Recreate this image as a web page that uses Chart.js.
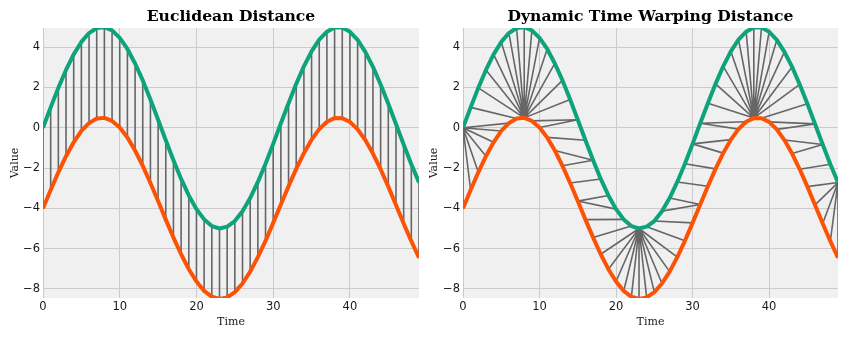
<!DOCTYPE html>
<html>
<head>
<meta charset="utf-8">
<script src="https://cdn.jsdelivr.net/npm/chart.js@4"></script>
<style>
  body { margin: 0; background: #ffffff; }
  .panel { position: absolute; top: 0; width: 425px; height: 340px; }
</style>
</head>
<body>
<div class="panel" style="left:0px"><canvas id="euclid" width="425" height="340"></canvas></div>
<div class="panel" style="left:425px"><canvas id="dtw" width="425" height="340"></canvas></div>
<script>
// two sampled waves, 50 points each
var time = [];
for (var i = 0; i < 50; i++) time.push(i);

var upper = [0, 1.01, 1.98, 2.87, 3.64, 4.26, 4.70, 4.95, 4.99, 4.83,
             4.46, 3.91, 3.19, 2.35, 1.40, 0.40, -0.62, -1.61, -2.54, -3.36,
             -4.04, -4.55, -4.88, -5.00, -4.91, -4.63, -4.14, -3.49, -2.69, -1.79,
             -0.80, 0.22, 1.22, 2.18, 3.05, 3.79, 4.37, 4.77, 4.98, 4.97,
             4.76, 4.36, 3.77, 3.02, 2.15, 1.19, 0.19, -0.83, -1.81, -2.72];

var lower = [-4.00, -3.09, -2.21, -1.41, -0.72, -0.16, 0.23, 0.46, 0.49, 0.34,
             0.01, -0.48, -1.13, -1.89, -2.74, -3.64, -4.56, -5.45, -6.28, -7.02,
             -7.63, -8.10, -8.39, -8.50, -8.42, -8.16, -7.73, -7.14, -6.42, -5.61,
             -4.72, -3.81, -2.90, -2.04, -1.26, -0.59, -0.07, 0.30, 0.48, 0.47,
             0.29, -0.08, -0.61, -1.28, -2.06, -2.92, -3.83, -4.75, -5.63, -6.45];

var xTicks = [0, 10, 20, 30, 40];
var yTicks = [-8, -6, -4, -2, 0, 2, 4];

var green = '#0ea37a';
var orange = '#fc5205';
var connector = '#666666';

// classic dtw with absolute difference, returns list of [i, j] pairs
function dtwPath(a, b) {
    var n = a.length, m = b.length;
    var D = [];
    for (var i = 0; i < n; i++) {
        D.push([]);
        for (var j = 0; j < m; j++) {
            var c = Math.abs(a[i] - b[j]);
            if (i == 0 && j == 0) D[i][j] = c;
            else if (i == 0) D[i][j] = c + D[i][j - 1];
            else if (j == 0) D[i][j] = c + D[i - 1][j];
            else D[i][j] = c + Math.min(D[i - 1][j - 1], D[i - 1][j], D[i][j - 1]);
        }
    }
    var path = [];
    var i = n - 1, j = m - 1;
    path.push([i, j]);
    while (i > 0 || j > 0) {
        if (i == 0) j--;
        else if (j == 0) i--;
        else {
            var d = D[i - 1][j - 1], u = D[i - 1][j], l = D[i][j - 1];
            if (d <= u && d <= l) { i--; j--; }
            else if (u <= l) i--;
            else j--;
        }
        path.push([i, j]);
    }
    return path.reverse();
}

// segments as one dataset, broken up with null points
function segments(pairs) {
    var pts = [];
    for (var p of pairs) {
        pts.push({x: time[p[0]], y: upper[p[0]]});
        pts.push({x: time[p[1]], y: lower[p[1]]});
        pts.push({x: time[p[1]], y: null});
    }
    return pts;
}

function series(values) {
    return values.map(function (v, k) { return {x: time[k], y: v}; });
}

var plotBackground = {
    id: 'plotBackground',
    beforeDraw: function (chart) {
        var ctx = chart.ctx, a = chart.chartArea;
        ctx.save();
        ctx.fillStyle = '#ffffff';
        ctx.fillRect(0, 0, chart.width, chart.height);
        ctx.fillStyle = '#f0f0f0';
        ctx.fillRect(a.left, a.top, a.right - a.left, a.bottom - a.top);
        ctx.restore();
    }
};

function minus(v) { return String(v).replace('-', '\u2212'); }

function makeChart(id, title, pairs, axisWidth, rightPad, labelPad) {
    var ctx = document.getElementById(id);
    return new Chart(ctx, {
        type: 'line',
        data: {
            datasets: [
                {data: series(upper), borderColor: green, borderWidth: 4, order: 1},
                {data: series(lower), borderColor: orange, borderWidth: 4, order: 2},
                {data: segments(pairs), borderColor: connector, borderWidth: 1.6, order: 3, spanGaps: false}
            ]
        },
        options: {
            responsive: false,
            animation: false,
            layout: { padding: { left: 0, right: rightPad, top: 0, bottom: 0 } },
            elements: {
                point: { radius: 0 },
                line: { tension: 0, borderCapStyle: 'butt', borderJoinStyle: 'round' }
            },
            datasets: { line: { clip: 0 } },
            plugins: {
                legend: { display: false },
                tooltip: { enabled: false },
                title: {
                    display: true,
                    text: title,
                    fullSize: false,
                    color: '#000000',
                    font: { family: 'DejaVu Serif', size: 15.6, weight: 'bold', lineHeight: 1.2 },
                    padding: { top: 8, bottom: 1.3 }
                }
            },
            scales: {
                x: {
                    type: 'linear',
                    min: 0,
                    max: 49,
                    afterFit: function (s) { s.height = 42; },
                    afterBuildTicks: function (s) { s.ticks = xTicks.map(function (v) { return {value: v}; }); },
                    grid: { color: '#cbcbcb', lineWidth: 1, drawTicks: false },
                    border: { display: false },
                    ticks: { padding: 2, color: '#1a1a1a', font: { family: 'DejaVu Sans', size: 11.5 }, callback: minus },
                    title: { display: true, text: 'Time', color: '#1a1a1a', font: { family: 'DejaVu Serif', size: 11 }, padding: { top: 0, bottom: 11 } }
                },
                y: {
                    min: -8.45,
                    max: 4.95,
                    afterFit: function (s) { s.width = axisWidth; },
                    afterBuildTicks: function (s) { s.ticks = yTicks.map(function (v) { return {value: v}; }); },
                    grid: { color: '#cbcbcb', lineWidth: 1, drawTicks: false },
                    border: { display: false },
                    ticks: { padding: 3, color: '#1a1a1a', font: { family: 'DejaVu Sans', size: 11.5 }, callback: minus },
                    title: { display: true, text: 'Value', color: '#1a1a1a', font: { family: 'DejaVu Serif', size: 11 }, padding: { top: labelPad, bottom: 0 } }
                }
            }
        },
        plugins: [plotBackground]
    });
}

var straight = time.map(function (k) { return [k, k]; });
makeChart('euclid', 'Euclidean Distance', straight, 43, 6, 9);
makeChart('dtw', 'Dynamic Time Warping Distance', dtwPath(upper, lower), 38, 12, 3);
</script>
</body>
</html>
